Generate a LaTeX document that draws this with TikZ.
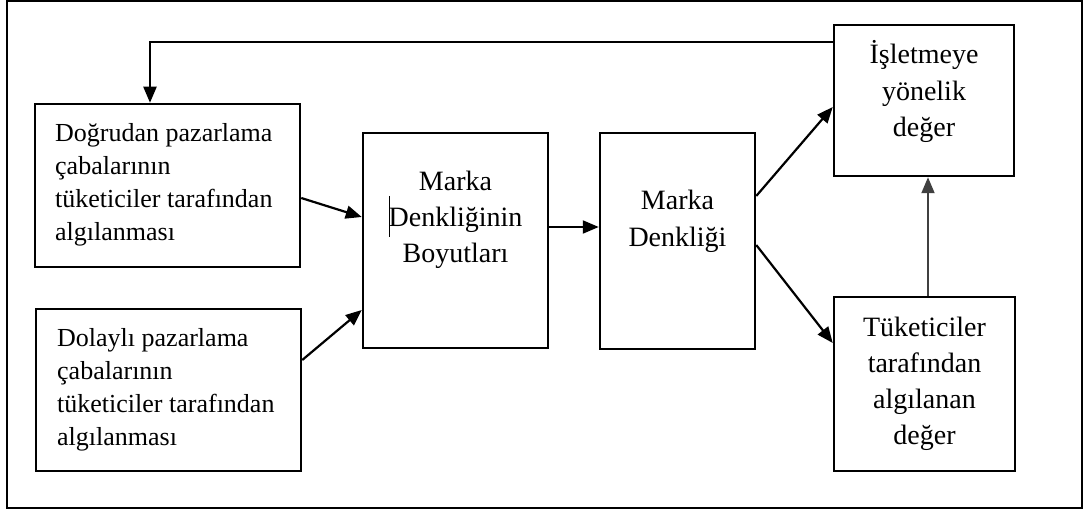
\documentclass[tikz,border=0pt]{standalone}
\usepackage{fontspec}
\setmainfont{Liberation Serif}
\usetikzlibrary{arrows.meta}
\newcommand\boxtextc[1]{\vtop{\halign{\hfil##\hfil\cr#1\crcr}}}
\newcommand\boxtextl[1]{\vtop{\halign{##\hfil\cr#1\crcr}}}
\tikzset{
  blk/.style={draw, line width=2.5pt, rectangle, inner sep=0pt},
  arr/.style={draw, line width=2.2pt, -{Triangle[length=16pt,width=13pt]}},
  txtsmall/.style={inner sep=0pt, font=\fontsize{26pt}{33pt}\selectfont},
  txtbig/.style={inner sep=0pt, font=\fontsize{28pt}{36pt}\selectfont},
}
\begin{document}
\begin{tikzpicture}[x=1pt,y=-1pt]
\useasboundingbox (0,0) rectangle (1084,510);
\draw[line width=2.5pt] (7,1) rectangle (1082,508);
% boxes
\node[blk, minimum width=265pt, minimum height=163pt] (A) at (167.5,185.5) {};
\node[blk, minimum width=265pt, minimum height=162pt] (B) at (168.5,390) {};
\node[blk, minimum width=185pt, minimum height=215pt] (C) at (455.5,240.5) {};
\node[blk, minimum width=155pt, minimum height=216pt] (D) at (677.5,241) {};
\node[blk, minimum width=180pt, minimum height=151pt] (E) at (924,100.5) {};
\node[blk, minimum width=181pt, minimum height=174pt] (F) at (924.5,384) {};
% texts
\node[txtsmall, anchor=base west] (tA) at (55,142) {\boxtextl{Doğrudan pazarlama\cr çabalarının\cr tüketiciler tarafından\cr algılanması}};
\node[txtsmall, anchor=base west] (tB) at (57,347) {\boxtextl{Dolaylı pazarlama\cr çabalarının\cr tüketiciler tarafından\cr algılanması}};
\node[txtbig, anchor=base] (tC) at (455.5,191) {\boxtextc{Marka\cr Denkliğinin\cr Boyutları}};
\node[txtbig, anchor=base, font=\fontsize{28pt}{37pt}\selectfont] (tD) at (677.5,210) {\boxtextc{Marka\cr Denkliği}};
\node[txtbig, anchor=base, font=\fontsize{28pt}{36.5pt}\selectfont] (tE) at (924,64) {\boxtextc{İşletmeye\cr yönelik\cr değer}};
\node[txtbig, anchor=base] (tF) at (924.5,337) {\boxtextc{Tüketiciler\cr tarafından\cr algılanan\cr değer}};
% text cursor mark
\draw[line width=0.9pt] (389,196) -- (389,237);
% connectors
\coordinate (fb) at (150,42);
\draw[arr] (fb -| E.west) -- (fb) -- (A.north -| fb);
\draw[arr] (A.east |- 0,198) -- (C.west |- 0,217);
\draw[arr] (B.east |- 0,360) -- (C.west |- 0,310);
\draw[arr] (C.east |- 0,227) -- (D.west |- 0,227);
\draw[arr] (D.east |- 0,196) -- (E.west |- 0,107);
\draw[arr] (D.east |- 0,245) -- (F.west |- 0,343);
\draw[arr, black!75, line width=1.9pt] (F.north -| 928,0) -- (E.south -| 928,0);
\end{tikzpicture}
\end{document}
